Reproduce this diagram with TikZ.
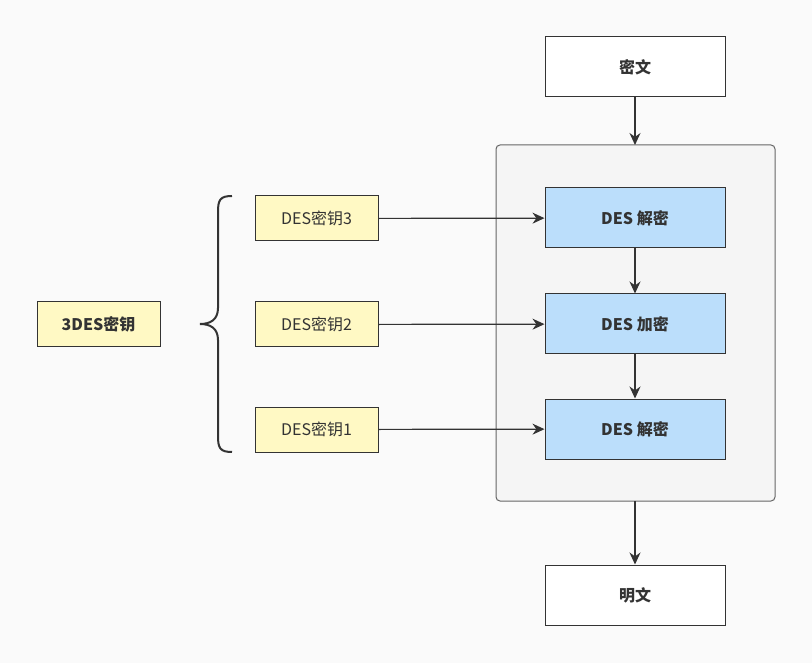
\documentclass[tikz,border=0pt]{standalone}
\usepackage{fontspec}
\setmainfont{Noto Sans CJK SC}
\usetikzlibrary{arrows.meta}
\definecolor{bg}{HTML}{FAFAFA}
\definecolor{cont}{HTML}{F5F5F5}
\definecolor{blue}{HTML}{BBDEFB}
\definecolor{yel}{HTML}{FFF9C4}
\definecolor{ln}{HTML}{333333}
\begin{document}
\begin{tikzpicture}[x=1pt,y=-1pt,
  box/.style={draw=ln,line width=1pt,minimum width=180pt,minimum height=60pt,inner sep=0pt,font=\fontsize{16}{19}\selectfont\bfseries,text=ln},
  wbox/.style={box,fill=white},
  bbox/.style={box,fill=blue},
  kbox/.style={draw=ln,line width=1pt,fill=yel,minimum width=123pt,minimum height=45pt,inner sep=0pt,font=\fontsize{16}{19}\selectfont,text=ln},
  arr/.style={draw=ln,line width=1.2pt,-{Stealth[length=12pt,width=11pt]}}]
\fill[bg] (0,0) rectangle (812,663);
\path[use as bounding box] (0,0) rectangle (812,663);
\draw[draw=black!60,fill=cont,line width=1pt,rounded corners=4pt] (496,145) rectangle (775,501);
\node[wbox] (c) at (635,67) {密文};
\node[bbox] (d1) at (635,218) {DES 解密};
\node[bbox] (e) at (635,324) {DES 加密};
\node[bbox] (d2) at (635,429) {DES 解密};
\node[wbox] (p) at (635,595) {明文};
\node[kbox] (k3) at (316.5,218.5) {DES密钥3};
\node[kbox] (k2) at (316.5,324.5) {DES密钥2};
\node[kbox] (k1) at (316.5,429.5) {DES密钥1};
\node[kbox,font=\fontsize{16}{19}\selectfont\bfseries] (k) at (98.5,324.5) {3DES密钥};
\coordinate (ct) at (635,145);
\coordinate (cb) at (635,501);
\draw[arr] (c) -- (ct);
\draw[arr] (cb) -- (p);
\draw[arr] (d1) -- (e);
\draw[arr] (e) -- (d2);
\draw[arr] (k3) -- (d1);
\draw[arr] (k2) -- (e);
\draw[arr] (k1) -- (d2);
\draw[ln,line width=2pt] (232,196) .. controls (220,196) and (218,200) .. (218,212) -- (218,308)
  .. controls (218,320) and (210,324) .. (200,324) .. controls (210,324) and (218,328) .. (218,340)
  -- (218,436) .. controls (218,448) and (220,452) .. (232,452);
\end{tikzpicture}
\end{document}
